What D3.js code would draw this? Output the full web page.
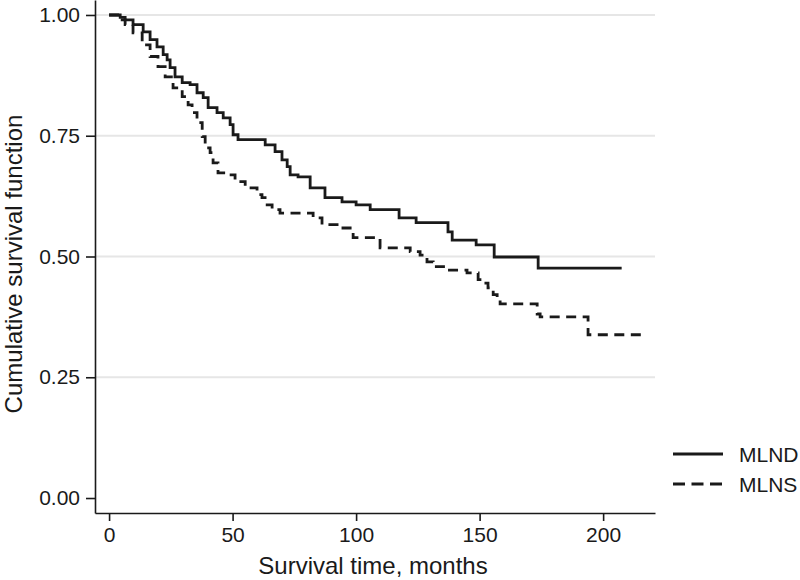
<!DOCTYPE html>
<html>
<head>
<meta charset="utf-8">
<script src="https://cdn.jsdelivr.net/npm/d3@7"></script>
<style>
  body { margin: 0; background: #fff; }
  text { font-family: "Liberation Sans", Arial, sans-serif; fill: #1a1a1a; }
</style>
</head>
<body>
<div id="chart"></div>
<script>
// Kaplan-Meier steps: event time (months) and survival after the step
var mlndTimes = [0, 4.5, 6.5, 9.7, 13.8, 16.6, 19.4, 21.9, 23.5, 24.7, 26.7, 29.6, 32.8, 35.6, 38.1,
    40.1, 43.7, 46.2, 49.0, 50.2, 52.2, 63.2, 67.2, 70.0, 72.1, 73.3, 76.5, 81.4, 87.4, 94.3,
    100.0, 105.7, 117.4, 124.3, 137.2, 138.9, 148.6, 155.9, 173.7, 207.5];
var mlndSurv = [1, 0.995, 0.990, 0.980, 0.965, 0.949, 0.934, 0.918, 0.907, 0.891, 0.872, 0.860, 0.856, 0.839, 0.829,
    0.808, 0.798, 0.787, 0.773, 0.752, 0.742, 0.731, 0.717, 0.700, 0.686, 0.669, 0.665, 0.642, 0.622, 0.613,
    0.607, 0.597, 0.580, 0.570, 0.551, 0.534, 0.524, 0.499, 0.476, 0.476];

var mlnsTimes = [0, 4.5, 6.5, 9.7, 13.4, 16.6, 19.8, 22.7, 25.9, 29.6, 32.0, 33.6, 35.6, 37.7, 38.9,
    40.9, 42.1, 44.1, 47.8, 51.0, 55.1, 59.9, 61.9, 64.0, 66.0, 69.2, 82.6, 86.2, 92.3, 98.8,
    109.7, 121.9, 125.9, 128.7, 131.2, 137.2, 144.9, 149.4, 151.0, 153.4, 155.5, 157.1, 158.3,
    173.3, 174.5, 193.9, 215.8];
var mlnsSurv = [1, 0.990, 0.980, 0.963, 0.938, 0.914, 0.893, 0.872, 0.849, 0.831, 0.814, 0.798, 0.777, 0.748, 0.725,
    0.715, 0.694, 0.673, 0.669, 0.655, 0.642, 0.628, 0.622, 0.607, 0.597, 0.590, 0.580, 0.566, 0.559, 0.539,
    0.518, 0.510, 0.503, 0.489, 0.479, 0.472, 0.466, 0.452, 0.445, 0.435, 0.421, 0.414, 0.402,
    0.381, 0.375, 0.338, 0.338];

var xTicks = [0, 50, 100, 150, 200];
var yTicks = [0, 0.25, 0.5, 0.75, 1];
var seriesNames = ['MLND', 'MLNS'];

var width = 800, height = 580;

var x = d3.scaleLinear().domain([-5.7, 221]).range([95, 655]);
var y = d3.scaleLinear().domain([-0.031, 1.031]).range([513, 0]);

var svg = d3.select('#chart')
    .append('svg')
    .attr('width', width)
    .attr('height', height);

// grid lines
svg.append('g')
    .selectAll('line')
    .data(yTicks.filter(d => d > 0))
    .enter()
    .append('line')
    .attr('x1', x.range()[0])
    .attr('x2', x.range()[1])
    .attr('y1', d => y(d))
    .attr('y2', d => y(d))
    .style('stroke', '#e6e6e6')
    .style('stroke-width', 2);

var xAxis = svg.append('g')
    .attr('transform', 'translate(0,' + y.range()[0] + ')')
    .call(d3.axisBottom(x).tickValues(xTicks).tickSize(8).tickPadding(6).tickSizeOuter(0));

var yAxis = svg.append('g')
    .attr('transform', 'translate(' + x.range()[0] + ',0)')
    .call(d3.axisLeft(y).tickValues(yTicks).tickFormat(d3.format('.2f')).tickSize(9).tickPadding(6).tickSizeOuter(0));

[xAxis, yAxis].forEach(function(a){
    a.select('.domain').style('stroke', '#1a1a1a').style('stroke-width', 1.6);
    a.selectAll('.tick line').style('stroke', '#1a1a1a').style('stroke-width', 1.6);
    a.selectAll('.tick text')
        .attr('font-family', '"Liberation Sans", Arial, sans-serif')
        .attr('font-size', '21px')
        .attr('fill', '#1a1a1a');
});

svg.append('text')
    .text('Survival time, months')
    .attr('x', 373)
    .attr('y', 574)
    .attr('font-size', '24px')
    .attr('text-anchor', 'middle');

svg.append('text')
    .text('Cumulative survival function')
    .attr('transform', 'translate(22,264) rotate(-90)')
    .attr('font-size', '24px')
    .attr('text-anchor', 'middle');

var line = d3.line()
    .x(d => x(d[0]))
    .y(d => y(d[1]))
    .curve(d3.curveStepAfter);

var series = [
    {name: seriesNames[0], pts: d3.zip(mlndTimes, mlndSurv), dash: null},
    {name: seriesNames[1], pts: d3.zip(mlnsTimes, mlnsSurv), dash: '10,6.5'}
];

svg.append('g')
    .selectAll('path')
    .data(series)
    .enter()
    .append('path')
    .attr('d', d => line(d.pts))
    .attr('fill', 'none')
    .style('stroke', '#1a1a1a')
    .style('stroke-width', 2.8)
    .style('stroke-dasharray', d => d.dash);

// legend
var legend = svg.append('g')
    .selectAll('g')
    .data(series)
    .enter()
    .append('g')
    .attr('transform', (d, i) => 'translate(673,' + (454 + i * 30) + ')');

legend.append('line')
    .attr('x1', 0)
    .attr('x2', 50)
    .style('stroke', '#1a1a1a')
    .style('stroke-width', 2.8)
    .style('stroke-dasharray', d => d.dash ? '12,6.5' : null);

legend.append('text')
    .text(d => d.name)
    .attr('x', 66)
    .attr('y', 7.5)
    .attr('font-size', '21px');
</script>
</body>
</html>
